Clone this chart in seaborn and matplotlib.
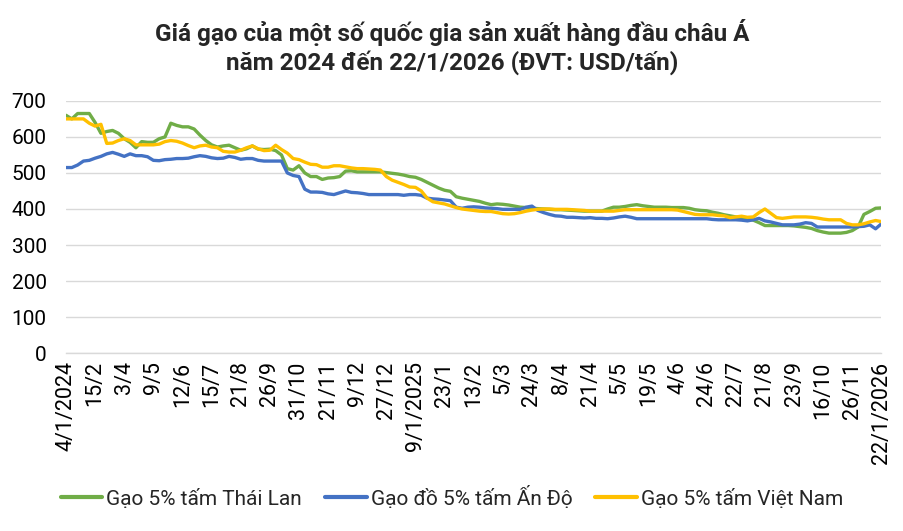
import matplotlib
matplotlib.use("Agg")
import matplotlib.pyplot as plt
import numpy as np
import pandas as pd
import seaborn as sns

# values (USD/tonne), one point per category
thai = [
    660, 650, 665, 665, 665, 640, 610, 615, 618, 610,
    595, 585, 570, 587, 585, 585, 595, 600, 638, 632,
    628, 628, 622, 605, 590, 578, 572, 575, 577, 570,
    563, 567, 575, 566, 565, 566, 562, 550, 512, 508,
    520, 500, 490, 490, 482, 486, 487, 490, 505, 506,
    503, 503, 503, 503, 503, 501, 499, 497, 494, 490,
    488, 482, 474, 466, 458, 452, 449, 434, 430, 427,
    424, 421, 416, 412, 414, 413, 411, 408, 405, 404,
    402, 401, 400, 399, 398, 398, 397, 396, 395, 394,
    394, 394, 394, 400, 405, 405, 407, 410, 412, 409,
    407, 405, 405, 405, 404, 404, 404, 402, 398, 396,
    395, 391, 388, 384, 381, 378, 375, 372, 369, 362,
    354, 354, 354, 354, 354, 353, 351, 349, 346, 340,
    336, 333, 333, 333, 335, 340, 350, 385, 393, 402,
    403,
]
india = [
    515, 515, 522, 533, 535, 541, 546, 553, 557, 552,
    546, 553, 548, 548, 545, 535, 534, 537, 538, 540,
    540, 541, 545, 548, 546, 542, 540, 541, 546, 543,
    538, 540, 540, 535, 533, 533, 533, 533, 500, 493,
    490, 455, 447, 447, 446, 442, 440, 445, 450, 446,
    445, 443, 440, 440, 440, 440, 440, 440, 438, 440,
    440, 438, 430, 428, 427, 425, 423, 405, 402, 405,
    406, 405, 403, 402, 401, 399, 399, 399, 399, 405,
    408, 396, 390, 385, 381, 380, 377, 377, 376, 375,
    376, 374, 374, 373, 375, 378, 380, 377, 373, 373,
    373, 373, 373, 373, 373, 373, 373, 373, 373, 373,
    373, 371, 370, 370, 370, 370, 369, 367, 370, 374,
    367, 364, 360, 356, 356, 356, 358, 362, 360, 350,
    350, 350, 350, 350, 350, 350, 351, 352, 356, 345,
    359,
]
vietnam = [
    650, 650, 650, 650, 638, 630, 635, 582, 583, 590,
    595, 590, 578, 578, 578, 578, 580, 587, 590, 588,
    583, 576, 570, 575, 577, 572, 570, 560, 558, 558,
    563, 570, 575, 567, 562, 563, 577, 565, 555, 540,
    537, 530, 524, 523, 516, 516, 520, 520, 517, 514,
    512, 512, 511, 510, 508, 490, 480, 474, 468, 461,
    460, 450, 430, 420, 417, 414, 409, 404, 400, 398,
    396, 394, 393, 393, 390, 387, 386, 387, 390, 394,
    397, 399, 400, 400, 399, 399, 399, 398, 397, 396,
    394, 394, 394, 394, 394, 396, 398, 398, 398, 398,
    398, 398, 398, 398, 398, 397, 393, 389, 385, 384,
    384, 384, 382, 381, 376, 378, 380, 377, 378, 390,
    400, 388, 376, 374, 376, 378, 378, 378, 377, 375,
    372, 370, 370, 370, 360, 356, 356, 359, 364, 368,
    365,
]
tick_labels = [
    "4/1/2024", "15/2", "3/4", "9/5", "12/6", "15/7", "21/8", "26/9",
    "31/10", "21/11", "9/12", "27/12", "9/1/2025", "23/1", "13/2", "5/3",
    "24/3", "8/4", "21/4", "5/5", "19/5", "4/6", "24/6", "22/7", "21/8",
    "23/9", "16/10", "26/11", "22/1/2026",
]
series_names = ["Gạo 5% tấm Thái Lan", "Gạo đồ 5% tấm Ấn Độ", "Gạo 5% tấm Việt Nam"]
colors = ["#70AD47", "#4472C4", "#FFC000"]

n = len(thai)
df = pd.concat([
    pd.DataFrame({"idx": np.arange(n), "price": vals, "series": name})
    for name, vals in zip(series_names, [thai, india, vietnam])
])

sns.set_theme(style="white")
plt.rcParams["font.family"] = ["Roboto", "DejaVu Sans"]

fig = plt.figure(figsize=(9.04, 5.31), dpi=100)
ax = fig.add_axes([0.073, 0.335, 0.902, 0.475])

sns.lineplot(data=df, x="idx", y="price", hue="series", hue_order=series_names,
             palette=colors, linewidth=2.4, ax=ax, legend=False)

ax.set_xlim(0, n - 1)
ax.set_ylim(0, 700)
ax.set_yticks(range(0, 701, 100))
ax.yaxis.grid(True, color="#d9d9d9", linewidth=1)
ax.xaxis.grid(False)
ax.set_axisbelow(True)

ax.set_xticks(np.arange(0, n, 5))
ax.set_xticklabels(tick_labels, rotation=90)
ax.set_xticks(list(np.arange(0, n, 3)) + [n - 1], minor=True)
ax.tick_params(axis="x", which="major", length=0, pad=6, labelsize=15.5, colors="#000000")
ax.tick_params(axis="x", which="minor", length=4, direction="in", color="#d9d9d9", width=1)
ax.tick_params(axis="y", length=0, pad=14, labelsize=15, colors="#000000")
ax.set_xlabel("")
ax.set_ylabel("")

for side in ["left", "right", "top"]:
    ax.spines[side].set_visible(False)
ax.spines["bottom"].set_color("#d9d9d9")
ax.spines["bottom"].set_linewidth(1)

fig.text(0.5, 0.912, "Giá gạo của một số quốc gia sản xuất hàng đầu châu Á\nnăm 2024 đến 22/1/2026 (ĐVT: USD/tấn)",
         ha="center", va="center", fontsize=17.5, fontweight="bold", linespacing=1.2)

handles = [plt.Line2D([], [], color=c, linewidth=3) for c in colors]
fig.legend(handles, series_names, loc="center", bbox_to_anchor=(0.5, 0.064), ncol=3,
           frameon=False, fontsize=15, handlelength=2.0, handletextpad=0.2, columnspacing=1.1)

fig.savefig("out.png", dpi=100)
